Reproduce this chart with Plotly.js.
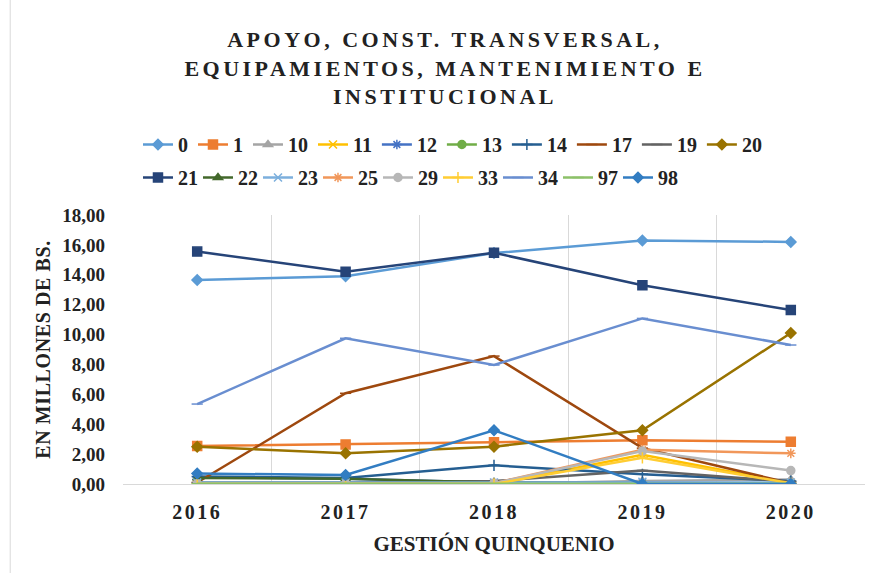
<!DOCTYPE html>
<html>
<head>
<meta charset="utf-8">
<script src="https://cdn.plot.ly/plotly-3.0.1.min.js"></script>
<style>
html,body{margin:0;padding:0;background:#fff;}
#chart{width:870px;height:573px;}
.gtitle{letter-spacing:3.5px;}
.xtick text{letter-spacing:2.5px;}
.ytitle{letter-spacing:0.6px;}
</style>
</head>
<body>
<div id="chart"></div>
<script>
const years = ['2016','2017','2018','2019','2020'];
const seriesNames = ['0','1','10','11','12','13','14','17','19','20','21','22','23','25','29','33','34','97','98'];
const s0  = [13.65, 13.9, 15.45, 16.3, 16.2];
const s1  = [2.55, 2.65, 2.8, 2.92, 2.82];
const s10 = [0.0, 0.0, 0.02, 0.2, 0.3];
const s11 = [0.0, 0.0, 0.0, 1.95, 0.05];
const s12 = [0.45, 0.35, 0.1, 0.1, 0.05];
const s13 = [0.0, 0.0, 0.0, 0.0, 0.0];
const s14 = [0.5, 0.4, 1.25, 0.65, 0.2];
const s17 = [0.1, 6.07, 8.56, 2.4, 0.05];
const s19 = [0.1, 0.1, 0.2, 0.9, 0.15];
const s20 = [2.5, 2.05, 2.5, 3.6, 10.1];
const s21 = [15.55, 14.2, 15.47, 13.3, 11.64];
const s22 = [0.4, 0.35, 0.1, 0.05, 0.0];
const s23 = [0.1, 0.1, 0.1, 0.15, 0.1];
const s25 = [0.0, 0.0, 0.05, 2.3, 2.05];
const s29 = [0.02, 0.02, 0.05, 2.2, 0.9];
const s33 = [0.0, 0.0, 0.0, 1.75, 0.05];
const s34 = [5.35, 9.75, 7.96, 11.08, 9.3];
const s97 = [0.02, 0.02, 0.02, 0.05, 0.02];
const s98 = [0.7, 0.6, 3.6, 0.0, 0.0];
const seriesValues = [s0,s1,s10,s11,s12,s13,s14,s17,s19,s20,s21,s22,s23,s25,s29,s33,s34,s97,s98];

const colors = ['#5B9BD5','#ED7D31','#A5A5A5','#FFC000','#4472C4','#70AD47','#255E91','#9E480E','#636363','#997300',
                '#264478','#43682B','#7CAFDD','#F1975A','#B7B7B7','#FFCD33','#698ED0','#8CC168','#327DC2'];
const symbols = ['diamond','square','triangle-up','x-thin-open','asterisk-open','circle','cross-thin-open','line-ew-open','line-ew-open',
                 'diamond','square','triangle-up','x-thin-open','asterisk-open','circle','cross-thin-open','line-ew-open','line-ew-open','diamond'];

const serif = 'Liberation Serif, Times New Roman, serif';
const ink = '#222222';

const traces = seriesNames.map((n,i)=>({
  type:'scatter', mode:'lines+markers', name:n, x:years, y:seriesValues[i],
  line:{color:colors[i], width:2.5},
  marker:{symbol:symbols[i], size: symbols[i]==='square'?9:8, color:colors[i], line:{color:colors[i], width:1.5}},
  legend: i<10 ? 'legend' : 'legend2'
}));
const legendFont = {family:serif, size:20, color:ink, weight:700};

const layout = {
  width:870, height:573,
  margin:{l:123, r:5, t:215, b:89},
  paper_bgcolor:'#fff', plot_bgcolor:'#fff',
  separators:',.',
  showlegend:true,
  title:{text:'APOYO, CONST. TRANSVERSAL,<br>EQUIPAMIENTOS, MANTENIMIENTO E<br>INSTITUCIONAL',
         font:{family:serif, size:22, color:ink, weight:700},
         x:0.5115, xanchor:'center', xref:'container', y:0.918, yanchor:'top', yref:'container'},
  xaxis:{type:'category', categoryorder:'array', categoryarray:years, range:[-0.5,4.5],
         tickson:'boundaries', showgrid:true, gridcolor:'#D9D9D9', gridwidth:1,
         showline:true, linecolor:'#D9D9D9', linewidth:1, ticks:'', zeroline:false,
         tickfont:{family:serif, size:20, color:ink, weight:700},
         ticklabelstandoff:10,
         title:{text:'GESTIÓN QUINQUENIO', font:{family:serif, size:21, color:ink, weight:700}, standoff:14}},
  yaxis:{range:[0,18], dtick:2, tickformat:'.2f', showgrid:false, zeroline:false, showline:false, ticks:'',
         tickfont:{family:serif, size:19, color:ink, weight:700},
         ticklabelstandoff:17,
         title:{text:'EN MILLONES DE BS.', font:{family:serif, size:20, color:ink, weight:700}, standoff:6}},
  legend:{orientation:'h', xref:'container', x:0.1586, xanchor:'left', yref:'container', y:1-125/573, yanchor:'top',
          font:legendFont, itemwidth:30, bgcolor:'rgba(0,0,0,0)'},
  legend2:{orientation:'h', xref:'container', x:0.1586, xanchor:'left', yref:'container', y:1-158/573, yanchor:'top',
          font:legendFont, entrywidth:15, entrywidthmode:'pixels', itemwidth:30, bgcolor:'rgba(0,0,0,0)'},
  shapes:[{type:'line', xref:'paper', yref:'paper', x0:-0.152, x1:-0.152, y0:-0.4, y1:2.2, line:{color:'#D9D9D9', width:1}}]
};

Plotly.newPlot('chart', traces, layout, {displayModeBar:false, staticPlot:true});
</script>
</body>
</html>
